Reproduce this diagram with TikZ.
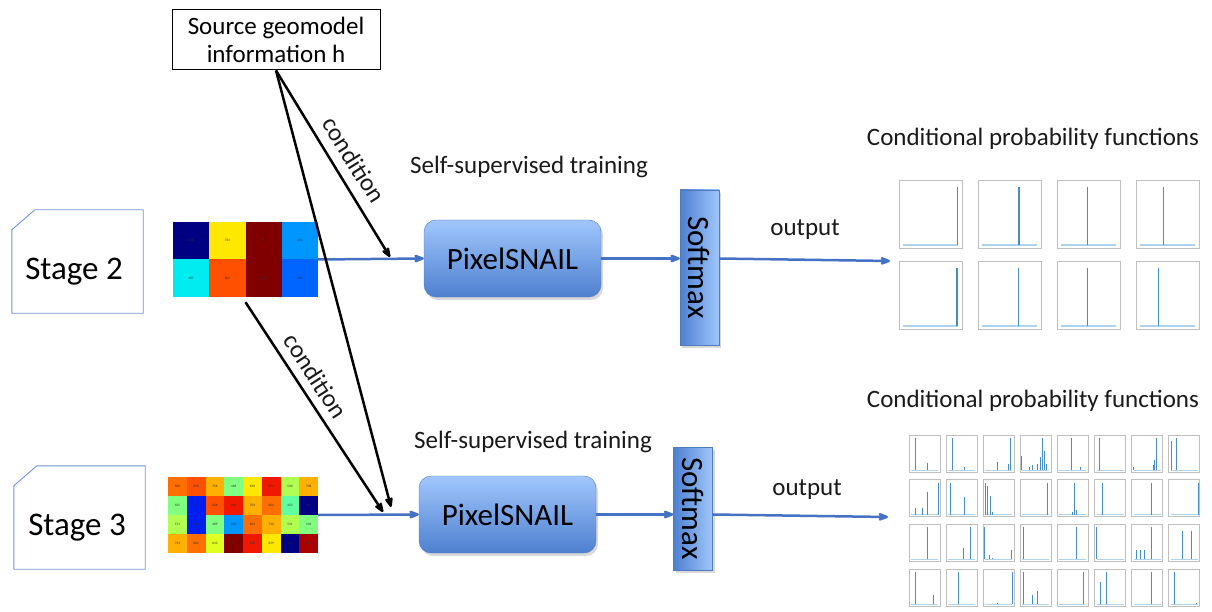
\documentclass[tikz,border=0pt]{standalone}
\usepackage{fontspec}
\setmainfont{Carlito}
\usetikzlibrary{arrows.meta, shadows}

\definecolor{psTop}{RGB}{160,198,252}
\definecolor{psBot}{RGB}{78,128,208}
\definecolor{psEdge}{RGB}{80,124,190}
\definecolor{flowBlue}{RGB}{68,114,196}
\definecolor{stageEdge}{RGB}{110,150,210}
\definecolor{spikeBlue}{RGB}{70,140,200}
\definecolor{baseBlue}{RGB}{175,210,238}
% jet colours of the code grids
\definecolor{jNavy}{RGB}{0,0,130}
\definecolor{jBlue}{RGB}{0,30,240}
\definecolor{jAzure}{RGB}{0,100,255}
\definecolor{jDodger}{RGB}{0,150,255}
\definecolor{jCyan}{RGB}{0,236,240}
\definecolor{jGreen}{RGB}{128,255,128}
\definecolor{jMint}{RGB}{96,255,160}
\definecolor{jLime}{RGB}{176,255,80}
\definecolor{jYelGr}{RGB}{224,255,32}
\definecolor{jYel}{RGB}{255,232,0}
\definecolor{jAmber}{RGB}{255,176,0}
\definecolor{jOrange}{RGB}{255,110,0}
\definecolor{jOrRed}{RGB}{255,80,0}
\definecolor{jRed}{RGB}{240,24,0}
\definecolor{jMaroon}{RGB}{128,0,0}
\definecolor{jDark}{RGB}{170,0,0}

\begin{document}
\begin{tikzpicture}[x=1pt, y=-1pt, >={Stealth[round]},
    every node/.style={font=\fontsize{25}{28}\selectfont, text=black!90},
    stagebox/.style={minimum width=131pt, minimum height=103pt, inner sep=0pt},
    netbox/.style={draw=psEdge, rounded corners=12pt, top color=psTop, bottom color=psBot,
        drop shadow={opacity=0.3, shadow xshift=2pt, shadow yshift=-3pt},
        minimum width=177pt, minimum height=77pt, font=\fontsize{31}{34}\selectfont, text=black},
    softbox/.style={draw=psEdge, left color=psBot, right color=psTop, minimum width=39pt, inner sep=0pt,
        drop shadow={opacity=0.3, shadow xshift=2pt, shadow yshift=-3pt},
        font=\fontsize{31}{34}\selectfont, text=black},
    flow/.style={->, draw=flowBlue, line width=2.5pt},
    cond/.style={->, line width=2.5pt},
    cell/.style={font=\fontsize{3.4}{4}\selectfont, inner sep=0pt, text=black!80},
    frame/.style={draw=black!25, line width=0.6pt},
    base/.style={draw=baseBlue, line width=1.6pt},
    spike/.style={draw=spikeBlue, line width=1.4pt}]
    \useasboundingbox (0,0) rectangle (1212,612);

    % Define source box and stage boxes
    \node[draw=black, line width=1pt, minimum width=208pt, minimum height=60pt, align=center,
        inner sep=1pt, text=black] (src) at (276,40) {Source geomodel\\information h};
    \node[stagebox] (stage2) at (77.5,261.5) {};
    \node[stagebox] (stage3) at (79.5,517.5) {};
    \foreach \s in {stage2, stage3}
        \draw[stageEdge, line width=0.9pt] (\s.south west) -- ([yshift=-20pt]\s.north west)
            -- ([xshift=23pt]\s.north west) -- (\s.north east) -- (\s.south east) -- cycle;
    \node[font=\fontsize{33}{36}\selectfont, text=black] (lab2) at (74,272) {Stage 2};
    \node[font=\fontsize{33}{36}\selectfont, text=black] (lab3) at (77,528) {Stage 3};

    % Define code grids
    \node[inner sep=0pt, minimum width=145pt, minimum height=75pt] (grid2) at (245.5,259.5) {};
    \foreach \c/\r/\col/\v in {0/0/jNavy/214, 1/0/jYel/733, 2/0/jMaroon/996, 3/0/jDodger/432,
                               0/1/jCyan/487, 1/1/jOrRed/862, 2/1/jMaroon/1005, 3/1/jAzure/390} {
        \fill[\col] ({173+\c*36.25},{222+\r*37.5}) rectangle ++(36.25,37.5);
        \node[cell] at ({173+\c*36.25+18.1},{222+\r*37.5+18.7}) {\v};
    }
    \node[inner sep=0pt, minimum width=150pt, minimum height=76pt] (grid3) at (243,515) {};
    \foreach \c/\r/\col/\v in {0/0/jOrange/800, 1/0/jOrRed/858, 2/0/jAmber/756, 3/0/jGreen/468,
                               4/0/jYel/650, 5/0/jRed/874, 6/0/jLime/540, 7/0/jAmber/708,
                               0/1/jGreen/505, 1/1/jBlue/97, 2/1/jOrRed/826, 3/1/jRed/905,
                               4/1/jAmber/703, 5/1/jOrange/804, 6/1/jMint/452, 7/1/jNavy/60,
                               0/2/jLime/571, 1/2/jBlue/180, 2/2/jGreen/489, 3/2/jDodger/240,
                               4/2/jOrange/802, 5/2/jAmber/740, 6/2/jLime/531, 7/2/jGreen/506,
                               0/3/jAmber/723, 1/3/jOrange/801, 2/3/jYelGr/610, 3/3/jMaroon/953,
                               4/3/jRed/876, 5/3/jYel/659, 6/3/jNavy/23, 7/3/jDark/940} {
        \fill[\col] ({168+\c*18.75},{477+\r*19}) rectangle ++(18.75,19);
        \node[cell] at ({168+\c*18.75+9.4},{477+\r*19+9.5}) {\v};
    }

    % Define networks and softmax layers
    \node[netbox] (ps2) at (512.5,258.5) {PixelSNAIL};
    \node[netbox] (ps3) at (507.5,514.5) {PixelSNAIL};
    \node[softbox, minimum height=155pt] (soft2) at (699.5,267.5) {\rotatebox{-90}{Softmax}};
    \node[softbox, minimum height=123pt] (soft3) at (693,508.5) {\rotatebox{-90}{Softmax}};
    \coordinate (out2) at (890,261);
    \coordinate (out3) at (888,517);
    \coordinate (c2) at (390,257);
    \coordinate (c3a) at (391,507);
    \coordinate (c3b) at (383,512);

    % Labels
    \node (ss2) at (529,167) {Self-supervised training};
    \node (ss3) at (533,442) {Self-supervised training};
    \node (o2) at (805,230) {output};
    \node (o3) at (807,490) {output};
    \node (cp2) at (1033,139) {Conditional probability functions};
    \node (cp3) at (1033,401) {Conditional probability functions};
    \node[rotate=-58] (cd2) at (354,160) {condition};
    \node[rotate=-57] (cd3) at (316,376) {condition};

    % Draw flow arrows
    \draw[flow] (grid2.east) -- (ps2.west);
    \draw[flow] (ps2.east) -- (ps2.east -| soft2.west);
    \draw[flow] (soft2.east |- ps2.east) -- (out2);
    \draw[flow] (grid3.east) -- (ps3.west);
    \draw[flow] (ps3.east) -- (ps3.east -| soft3.west);
    \draw[flow] (soft3.east |- ps3.east) -- (out3);

    % Draw condition arrows
    \draw[cond] (src.south) -- (c2);
    \draw[cond] (src.south) -- (c3a);
    \draw[cond] ([yshift=-5pt]grid2.south) -- (c3b);

    % Stage 2 probability plots
    \foreach \c in {0,...,3}
        \foreach \r in {0,1} {
            \draw[frame] ({899+\c*79},{180+\r*81}) rectangle ++(63,68);
            \draw[base] ({899+\c*79+4},{180+\r*81+65}) -- ++(55,0);
        }
    \foreach \c/\r/\s in {0/0/0.93, 1/0/0.65, 2/0/0.48, 3/0/0.44,
                          0/1/0.92, 1/1/0.64, 2/1/0.48, 3/1/0.36}
        \draw[spike] ({899+\c*79+\s*63},{180+\r*81+65}) -- ++(0,-58);

    % Stage 3 probability plots
    \foreach \c in {0,...,7}
        \foreach \r in {0,...,3} {
            \draw[frame] ({909+\c*37.1},{435+\r*44.7}) rectangle ++(31,37);
            \draw[base, line width=1pt] ({909+\c*37.1+2},{435+\r*44.7+35}) -- ++(27,0);
        }
    \foreach \c/\r/\s/\h in {0/0/0.2/1, 0/0/0.6/0.22,
                             1/0/0.2/1, 1/0/0.6/0.1,
                             2/0/0.45/0.25, 2/0/0.8/0.2, 2/0/0.88/1,
                             3/0/0.05/0.45, 3/0/0.3/0.1, 3/0/0.4/0.15, 3/0/0.55/0.2, 3/0/0.65/0.4, 3/0/0.7/1, 3/0/0.78/0.6, 3/0/0.85/0.2,
                             4/0/0.45/1, 4/0/0.75/0.1,
                             5/0/0.15/1,
                             6/0/0.05/0.1, 6/0/0.7/0.15, 6/0/0.75/0.3, 6/0/0.8/1,
                             7/0/0.1/0.9, 7/0/0.25/1,
                             0/1/0.2/0.2, 0/1/0.45/0.2, 0/1/0.6/0.7, 0/1/0.95/1,
                             1/1/0.15/1, 1/1/0.6/0.55,
                             2/1/0.08/1, 2/1/0.15/0.9, 2/1/0.22/0.6, 2/1/0.3/0.1,
                             3/1/0.88/1,
                             4/1/0.5/0.1, 4/1/0.55/1, 4/1/0.6/0.15,
                             5/1/0.25/1,
                             6/1/0.65/1,
                             7/1/0.95/1,
                             0/2/0.6/1,
                             1/2/0.55/0.35, 1/2/0.8/1,
                             2/2/0.05/1, 2/2/0.2/0.15, 2/2/0.3/0.05, 2/2/0.9/0.3,
                             3/2/0.1/1,
                             4/2/0.6/1,
                             5/2/0.05/1,
                             6/2/0.15/0.3, 6/2/0.3/0.3, 6/2/0.4/0.3, 6/2/0.65/1,
                             7/2/0.45/0.9, 7/2/0.75/0.9,
                             0/3/0.2/1, 0/3/0.8/0.3,
                             1/3/0.4/1,
                             2/3/0.45/0.05, 2/3/0.95/1,
                             3/3/0.1/1, 3/3/0.4/0.3, 3/3/0.55/0.4,
                             4/3/0.85/1,
                             5/3/0.2/0.7, 5/3/0.4/1,
                             6/3/0.65/1,
                             7/3/0.2/1, 7/3/0.9/0.05}
        \draw[spike, line width=1pt] ({909+\c*37.1+\s*31},{435+\r*44.7+35}) -- ++(0,{-\h*32});
\end{tikzpicture}
\end{document}
